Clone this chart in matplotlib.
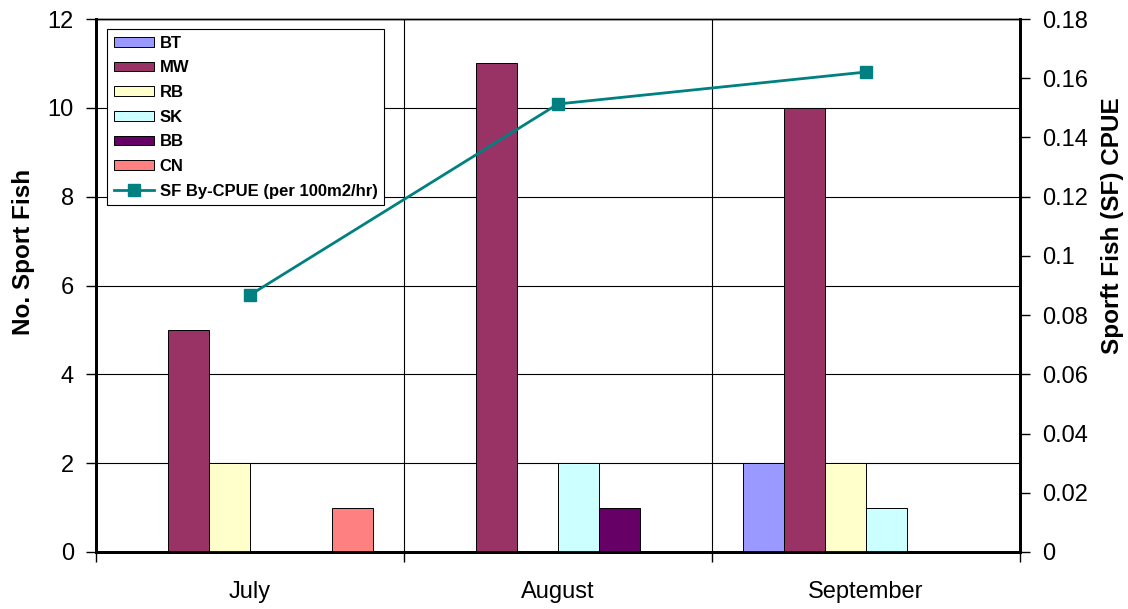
import numpy as np
import matplotlib
matplotlib.use("Agg")
import matplotlib.pyplot as plt
from matplotlib.ticker import FuncFormatter, MultipleLocator, FixedLocator

plt.rcParams['font.family'] = ['Liberation Sans', 'DejaVu Sans']

# --- data ---
months = ["July", "August", "September"]
species = ["BT", "MW", "RB", "SK", "BB", "CN"]
bt = [0, 0, 2]
mw = [5, 11, 10]
rb = [2, 0, 2]
sk = [0, 2, 1]
bb = [0, 1, 0]
cn = [1, 0, 0]
cpue = [0.0868, 0.1513, 0.1621]
cpue_label = "SF By-CPUE (per 100m2/hr)"

counts = [bt, mw, rb, sk, bb, cn]
colors = ["#9999FF", "#993366", "#FFFFCC", "#CCFFFF", "#660066", "#FF8080"]

fig = plt.figure(figsize=(11.28, 6.09), dpi=100)
ax = fig.add_axes([96 / 1128, 1 - 552 / 609, 924 / 1128, 533 / 609])
ax2 = ax.twinx()

x = np.arange(len(months))
bw = 0.8 / len(species)
for i, (name, vals, col) in enumerate(zip(species, counts, colors)):
    ax.bar(x - 0.4 + bw * (i + 0.5), vals, width=bw, color=col,
           edgecolor="black", linewidth=0.7, label=name, zorder=3)

ln, = ax2.plot(x, cpue, color="#008080", lw=2, marker="s", markersize=9,
               label=cpue_label, zorder=4)

ax.set_xlim(-0.5, len(months) - 0.5)
ax.set_ylim(0, 12)
ax2.set_ylim(0, 0.18)
ax.yaxis.set_major_locator(MultipleLocator(2))
ax2.yaxis.set_major_locator(MultipleLocator(0.02))
ax2.yaxis.set_major_formatter(FuncFormatter(lambda v, p: "%g" % round(v, 2)))

# category boundaries as ticks/grid, labels at category centres
ax.xaxis.set_major_locator(FixedLocator(np.arange(len(months) + 1) - 0.5))
ax.xaxis.set_minor_locator(FixedLocator(x))
ax.xaxis.set_major_formatter(FuncFormatter(lambda v, p: ""))
ax.set_xticklabels(months, minor=True)
ax.tick_params(axis="x", which="major", direction="out", length=7, width=1)
ax.tick_params(axis="x", which="minor", length=0, pad=21, labelsize=17)
ax.tick_params(axis="y", direction="out", length=7, width=1, pad=9, labelsize=17)
ax2.tick_params(axis="y", direction="out", length=7, width=1, pad=9, labelsize=17)

ax.grid(True, which="major", color="black", lw=0.8, zorder=0)
ax.set_axisbelow(True)

for a in (ax, ax2):
    a.spines["top"].set_linewidth(1.0)
    for s in ("left", "right", "bottom"):
        a.spines[s].set_linewidth(2)

ax.set_ylabel("No. Sport Fish", fontsize=17.5, fontweight="bold", va="center")
ax.yaxis.set_label_coords(-0.079, 0.563)
ax2.set_ylabel("Sporft Fish (SF) CPUE", fontsize=17.5, fontweight="bold", va="center")
ax2.yaxis.set_label_coords(1.1006, 0.6116)

handles, labels = ax.get_legend_handles_labels()
leg = ax2.legend(handles + [ln], labels + [cpue_label], loc="upper left",
                 bbox_to_anchor=(0.012, 0.981), frameon=True, fancybox=False,
                 edgecolor="black", framealpha=1, prop={"weight": "bold", "size": 12},
                 handlelength=2.4, handleheight=0.5, labelspacing=0.58,
                 borderpad=0.4, handletextpad=0.35, borderaxespad=0)
leg.get_frame().set_linewidth(0.8)

fig.savefig("out.png", dpi=100)
